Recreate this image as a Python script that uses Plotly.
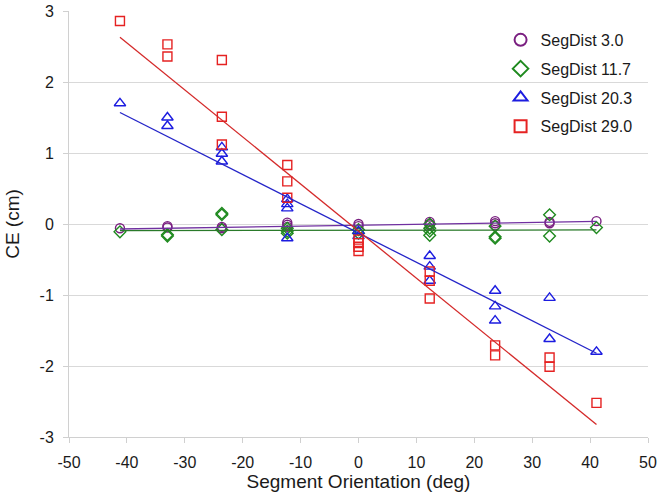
import plotly.graph_objects as go

# ---- data ----
series_names = ["SegDist 3.0", "SegDist 11.7", "SegDist 20.3", "SegDist 29.0"]

x_seg30 = [-41.2, -33.0, -33.0, -23.6, -23.6, -12.3, -12.3, -12.3, 0, 0,
           12.3, 12.3, 12.3, 23.6, 23.6, 23.6, 33.0, 33.0, 41.1]
y_seg30 = [-0.06, -0.03, -0.05, -0.04, -0.06, 0.02, -0.01, -0.04, 0.0, -0.03,
           0.03, 0.0, -0.02, 0.04, 0.01, -0.02, 0.03, 0.01, 0.04]

x_seg117 = [-41.2, -33.0, -33.0, -23.6, -23.6, -23.6, -12.3, -12.3, -12.3, 0, 0,
            12.3, 12.3, 12.3, 12.3, 23.6, 23.6, 23.6, 33.0, 33.0, 41.1]
y_seg117 = [-0.11, -0.15, -0.17, 0.15, 0.13, -0.08, -0.06, -0.10, -0.13, -0.08, -0.13,
            0.0, -0.06, -0.10, -0.16, -0.03, -0.18, -0.20, 0.13, -0.17, -0.05]

x_seg203 = [-41.2, -33.0, -33.0, -23.6, -23.6, -23.6, -12.3, -12.3, -12.3, -12.3, 0, 0,
            12.3, 12.3, 12.3, 23.6, 23.6, 23.6, 33.0, 33.0, 41.1]
y_seg203 = [1.70, 1.50, 1.38, 1.08, 0.99, 0.88, 0.35, 0.28, 0.22, -0.20, -0.10, -0.17,
            -0.45, -0.60, -0.80, -0.94, -1.16, -1.36, -1.04, -1.62, -1.80]

x_seg290 = [-41.2, -33.0, -33.0, -23.6, -23.6, -23.6, -12.3, -12.3, -12.3, 0, 0, 0, 0,
            12.3, 12.3, 12.3, 23.6, 23.6, 33.0, 33.0, 41.1]
y_seg290 = [2.86, 2.53, 2.36, 2.31, 1.51, 1.12, 0.83, 0.60, 0.37, -0.22, -0.27, -0.32, -0.38,
            -0.67, -0.80, -1.05, -1.71, -1.85, -1.88, -2.01, -2.52]

# linear trendline coefficients (slope, intercept)
trend_slope = [0.0013, 0.0001, -0.0412, -0.0663]
trend_intercept = [-0.017, -0.088, -0.127, -0.10]

x_ticks = [-50, -40, -30, -20, -10, 0, 10, 20, 30, 40, 50]
x_tick_labels = ["-50", "-40", "-30", "-20", "-10", "0", "10", "20", "30", "40", "50"]
y_ticks = [-3, -2, -1, 0, 1, 2, 3]
y_tick_labels = ["-3", "-2", "-1", "0", "1", "2", "3"]

# ---- styles ----
marker_colors = ["#7a1f80", "#1f8a1f", "#1c1ce0", "#e52222"]
line_colors = ["#7030a0", "#2a7a2a", "#2424c8", "#d42a2a"]
symbols = ["circle-open", "diamond-open", "triangle-up-open", "square-open"]
sizes = [9, 9, 10, 9]

xs = [x_seg30, x_seg117, x_seg203, x_seg290]
ys = [y_seg30, y_seg117, y_seg203, y_seg290]

fig = go.Figure()

for i in range(4):
    fig.add_trace(go.Scatter(
        x=xs[i], y=ys[i], mode="markers", name=series_names[i],
        legendgroup=series_names[i],
        marker=dict(symbol=symbols[i], size=sizes[i], color=marker_colors[i],
                    line=dict(width=1.4, color=marker_colors[i])),
    ))

for i in range(4):
    x0, x1 = min(xs[i]), max(xs[i])
    fig.add_trace(go.Scatter(
        x=[x0, x1],
        y=[trend_slope[i] * x0 + trend_intercept[i], trend_slope[i] * x1 + trend_intercept[i]],
        mode="lines", showlegend=False, hoverinfo="skip",
        line=dict(color=line_colors[i], width=1.3),
    ))

font_family = "Liberation Sans, Arial, sans-serif"

fig.update_layout(
    width=661, height=499,
    margin=dict(l=69, r=13, t=11, b=62, autoexpand=False),
    paper_bgcolor="white", plot_bgcolor="white",
    font=dict(family=font_family, size=16, color="#1a1a1a"),
    showlegend=True,
    legend=dict(x=0.982, y=0.972, xanchor="right", yanchor="top",
                bgcolor="rgba(255,255,255,0)", font=dict(size=16),
                itemsizing="constant", tracegroupgap=5, itemwidth=30),
    xaxis=dict(range=[-50, 50], tickvals=x_ticks, ticktext=x_tick_labels,
               showgrid=False, zeroline=False,
               showline=True, linecolor="#d0d0d0", linewidth=1,
               ticks="outside", ticklen=5, tickcolor="#d0d0d0",
               ticklabelstandoff=6, automargin=False,
               title=dict(text="Segment Orientation (deg)", standoff=4)),
    yaxis=dict(range=[-3, 3], tickvals=y_ticks, ticktext=y_tick_labels,
               showgrid=True, gridcolor="#d9d9d9",
               zeroline=False, showline=True, linecolor="#d0d0d0", linewidth=1,
               ticks="outside", ticklen=5, tickcolor="#d0d0d0",
               ticklabelstandoff=6, automargin=False,
               title=dict(text="CE (cm)", standoff=14)),
)

fig.write_html("out.html", config={"displayModeBar": False},
               post_script="document.body.style.margin='0';document.body.style.overflow='hidden';")
